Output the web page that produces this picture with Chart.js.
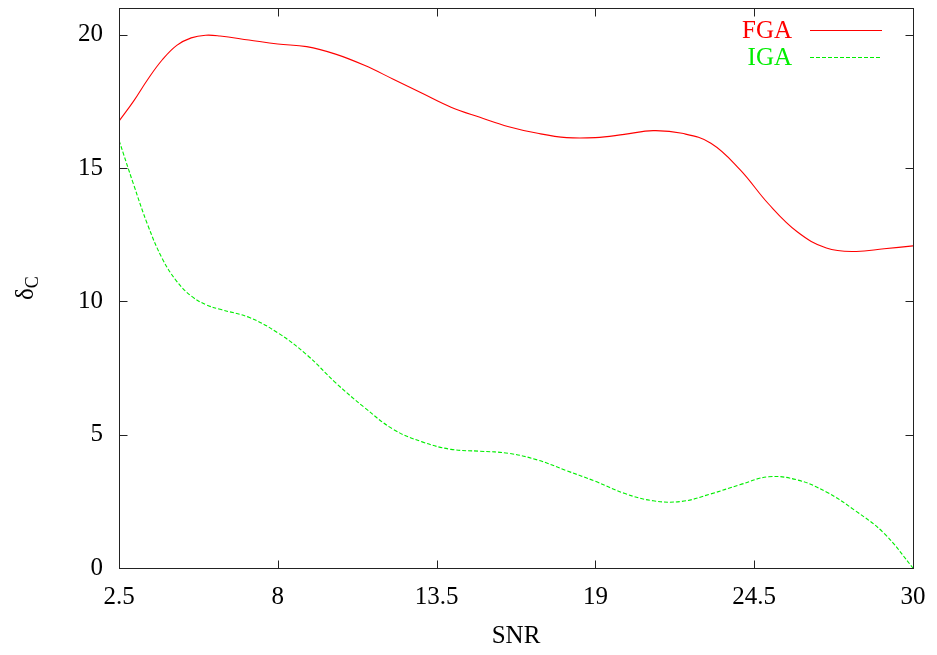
<!DOCTYPE html>
<html>
<head>
<meta charset="utf-8">
<script src="https://cdn.jsdelivr.net/npm/chart.js@4/dist/chart.umd.min.js"></script>
<style>
  html, body { margin: 0; padding: 0; background: #ffffff; }
  canvas { display: block; }
</style>
</head>
<body>
<canvas id="chart" width="937" height="655"></canvas>
<script>
// SNR sample positions shared by both curves
const snr = [2.5, 3, 3.5, 4, 4.5, 5, 5.5, 6, 7, 8, 9, 10, 11, 12, 13, 14, 15, 16, 17, 18, 19, 20, 21, 22, 23, 24, 25, 26, 27, 28, 29, 30];
// delta_C for each method
const fga = [16.76, 17.5, 18.33, 19.06, 19.6, 19.88, 19.98, 19.95, 19.8, 19.65, 19.55, 19.27, 18.85, 18.33, 17.8, 17.28, 16.9, 16.55, 16.3, 16.14, 16.14, 16.26, 16.4, 16.3, 15.93, 14.95, 13.65, 12.6, 12.0, 11.87, 11.97, 12.08];
const iga = [16.04, 14.4, 12.85, 11.6, 10.75, 10.2, 9.88, 9.7, 9.4, 8.82, 8.0, 6.95, 6.02, 5.2, 4.73, 4.45, 4.38, 4.3, 4.05, 3.65, 3.25, 2.8, 2.52, 2.5, 2.78, 3.12, 3.42, 3.3, 2.85, 2.15, 1.3, 0];
const seriesNames = ['FGA', 'IGA'];
const seriesColors = ['#ff0000', '#00ee00'];
const xTicks = [2.5, 8, 13.5, 19, 24.5, 30];
const yTicks = [0, 5, 10, 15, 20];

const FONT = '"Liberation Serif", "DejaVu Serif", "Times New Roman", serif';

// Frame, inward ticks on all four sides, legend and the delta_C axis title
const framePlugin = {
  id: 'frameAndExtras',
  afterDatasetsDraw(chart) {
    const ctx = chart.ctx;
    const a = chart.chartArea;
    const xs = chart.scales.x, ys = chart.scales.y;
    const L = Math.round(a.left) + 0.5, R = Math.round(a.right) + 0.5;
    const T = Math.round(a.top) + 0.5, B = Math.round(a.bottom) + 0.5;
    ctx.save();
    ctx.lineWidth = 1;
    ctx.strokeStyle = '#222';
    ctx.strokeRect(L, T, R - L, B - T);
    const tl = 8;
    ctx.beginPath();
    xTicks.forEach(v => {
      const px = Math.round(xs.getPixelForValue(v)) + 0.5;
      ctx.moveTo(px, B); ctx.lineTo(px, B - tl);
      ctx.moveTo(px, T); ctx.lineTo(px, T + tl);
    });
    yTicks.forEach(v => {
      const py = Math.round(ys.getPixelForValue(v)) + 0.5;
      ctx.moveTo(L, py); ctx.lineTo(L + tl, py);
      ctx.moveTo(R, py); ctx.lineTo(R - tl, py);
    });
    ctx.stroke();

    // legend, top right inside the plot
    const rows = [30, 57];
    seriesNames.forEach((name, i) => {
      const ds = chart.data.datasets[i];
      ctx.font = '25px ' + FONT;
      ctx.fillStyle = seriesColors[i];
      ctx.textAlign = 'right';
      ctx.textBaseline = 'middle';
      ctx.fillText(name, 792, rows[i] + 1);
      ctx.beginPath();
      ctx.strokeStyle = seriesColors[i];
      ctx.lineWidth = 1.2;
      ctx.setLineDash(ds.borderDash || []);
      ctx.moveTo(810, rows[i] + 0.5);
      ctx.lineTo(882, rows[i] + 0.5);
      ctx.stroke();
      ctx.setLineDash([]);
    });

    // y axis title: delta with subscript C, rotated
    ctx.translate(33, 300);
    ctx.rotate(-Math.PI / 2);
    ctx.fillStyle = '#000';
    ctx.textAlign = 'left';
    ctx.textBaseline = 'alphabetic';
    ctx.font = '25px ' + FONT;
    ctx.fillText('δ', 0, 0);
    const w = ctx.measureText('δ').width;
    ctx.font = '18px ' + FONT;
    ctx.fillText('C', w, 5);
    ctx.restore();
  }
};

new Chart(document.getElementById('chart'), {
  type: 'line',
  data: {
    datasets: [
      {
        label: seriesNames[0],
        data: snr.map((x, i) => ({ x, y: fga[i] })),
        borderColor: seriesColors[0],
        borderWidth: 1.1,
        pointRadius: 0,
        tension: 0.4,
        fill: false
      },
      {
        label: seriesNames[1],
        data: snr.map((x, i) => ({ x, y: iga[i] })),
        borderColor: seriesColors[1],
        borderWidth: 1.1,
        borderDash: [4, 2],
        pointRadius: 0,
        tension: 0.4,
        fill: false
      }
    ]
  },
  options: {
    responsive: false,
    animation: false,
    devicePixelRatio: 1,
    layout: { padding: { top: 8, right: 24, left: 0, bottom: 0 } },
    plugins: { legend: { display: false }, tooltip: { enabled: false } },
    scales: {
      x: {
        type: 'linear',
        min: 2.5,
        max: 30,
        afterBuildTicks: s => { s.ticks = xTicks.map(v => ({ value: v })); },
        afterFit: s => { s.height = 87; s.paddingLeft = 0; s.paddingRight = 0; },
        grid: { display: false, drawTicks: false },
        border: { display: false },
        ticks: {
          color: '#000',
          font: { family: FONT, size: 25 },
          padding: 14,
          maxRotation: 0,
          autoSkip: false,
          callback: v => String(v)
        },
        title: {
          display: true,
          text: 'SNR',
          color: '#000',
          font: { family: FONT, size: 25 },
          padding: { top: 0, bottom: 4 }
        }
      },
      y: {
        type: 'linear',
        min: 0,
        max: 21,
        afterBuildTicks: s => { s.ticks = yTicks.map(v => ({ value: v })); },
        afterFit: s => { s.width = 119; s.paddingTop = 0; s.paddingBottom = 0; },
        grid: { display: false, drawTicks: false },
        border: { display: false },
        ticks: {
          color: '#000',
          font: { family: FONT, size: 25 },
          padding: 16,
          callback: v => String(v)
        }
      }
    }
  },
  plugins: [framePlugin]
});
</script>
</body>
</html>
